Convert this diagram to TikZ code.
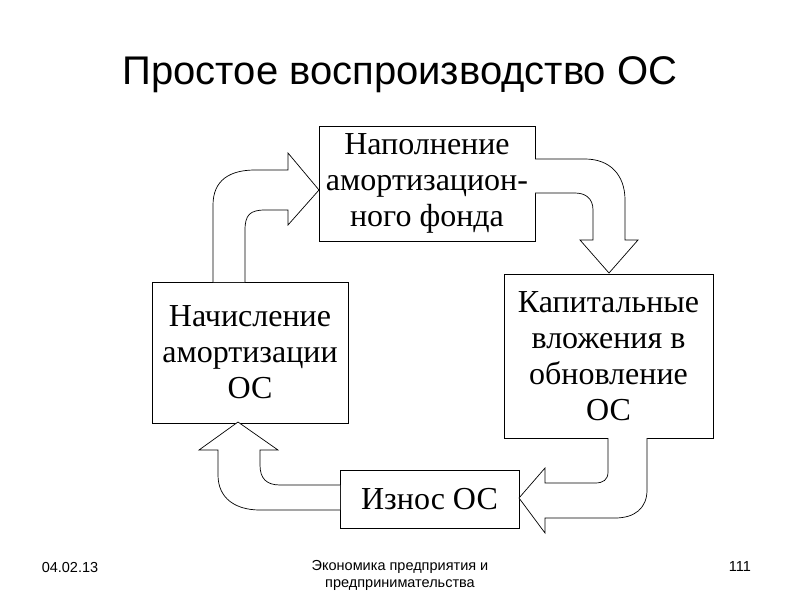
\documentclass[tikz,border=0pt]{standalone}
\usepackage{fontspec}
\setmainfont{Liberation Serif}
\newfontfamily\arialf{Liberation Sans}
\begin{document}
\begin{tikzpicture}[x=1pt,y=-1pt,
  box/.style={draw,thick,fill=white,align=center,font=\fontsize{32}{36}\selectfont,inner sep=0pt},
  barrow/.style={draw,line width=0.7pt,fill=white,line join=miter}]
\useasboundingbox (0,0) rectangle (800,600);
\node[font=\arialf\fontsize{40}{46}\selectfont] (title) at (400,75) {Простое воспроизводство ОС};
\node[box,minimum width=216,minimum height=115] (top) at (427,183.5) {Наполнение\\амортизацион-\\ного фонда};
\node[box,minimum width=196,minimum height=141] (left) at (250,352.5) {Начисление\\амортизации\\ОС};
\node[box,minimum width=209,minimum height=164] (right) at (608.5,356) {Капитальные\\вложения в\\обновление\\ОС};
\node[box,minimum width=179,minimum height=58] (bot) at (429.5,499) {Износ ОС};
% left -> top
\draw[barrow] (213,282) -- (213,205) .. controls (213,180) and (230,170) .. (255,170) -- (288,170) -- (288,153) -- (319,190) -- (288,225) -- (288,210) -- (265,210) .. controls (250,210) and (245,215) .. (245,230) -- (245,282);
% top -> right
\draw[barrow] (535,159) -- (585,159) .. controls (610,159) and (625,175) .. (625,200) -- (625,240) -- (638,240) -- (609,273) -- (580,240) -- (593,240) -- (593,210) .. controls (593,198) and (585,193) .. (575,193) -- (535,193);
% right -> bottom
\draw[barrow] (608,438) -- (608,472) .. controls (608,480) and (603,483) .. (595,483) -- (545,483) -- (545,468) -- (519,498) -- (545,533) -- (545,518) -- (615,518) .. controls (635,518) and (647,508) .. (647,490) -- (647,438);
% bottom -> left
\draw[barrow] (340,485) -- (280,485) .. controls (266,485) and (260,478) .. (260,465) -- (260,450) -- (278,450) -- (238,422) -- (199,450) -- (218,450) -- (218,475) .. controls (218,498) and (235,510) .. (260,510) -- (340,510);
\node[font=\arialf\fontsize{14.5}{17}\selectfont] (date) at (70,567) {04.02.13};
\node[font=\arialf\fontsize{14.5}{17}\selectfont,align=center] (foot) at (400,575) {Экономика предприятия и\\предпринимательства};
\node[font=\arialf\fontsize{14.5}{17}\selectfont] (page) at (740,567) {111};
\end{tikzpicture}
\end{document}
